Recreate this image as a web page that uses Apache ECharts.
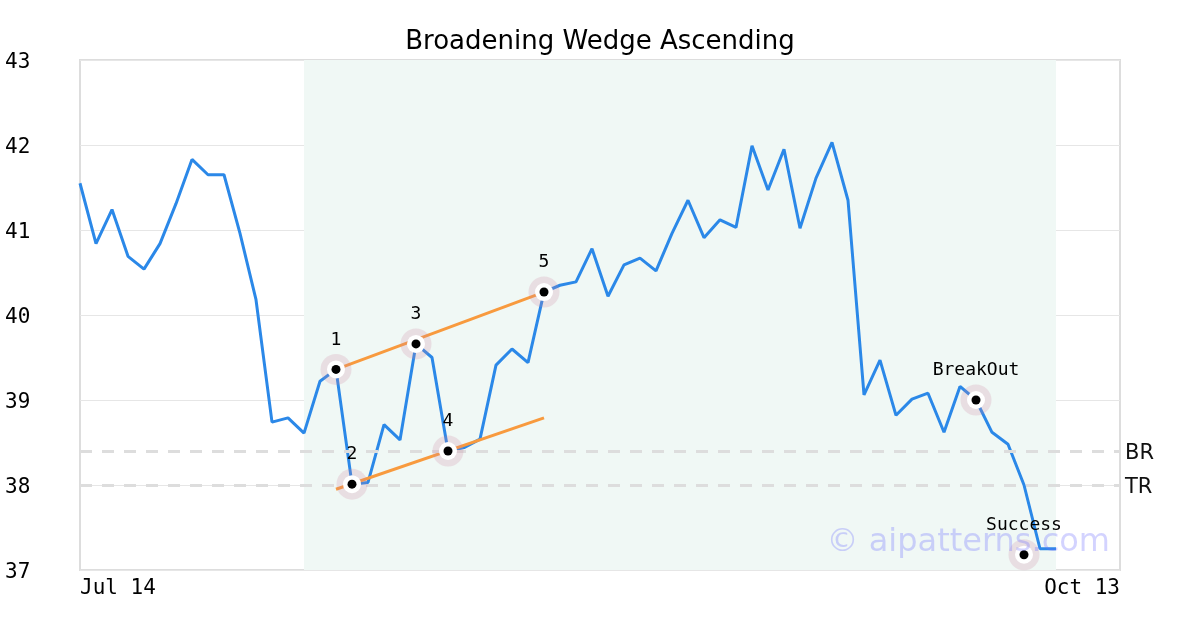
<!DOCTYPE html>
<html>
<head>
<meta charset="utf-8">
<script src="https://cdn.jsdelivr.net/npm/echarts@6/dist/echarts.min.js"></script>
<style>html,body{margin:0;padding:0;background:#fff}#c{width:1200px;height:630px}</style>
</head>
<body>
<div id="c"></div>
<script>
const categories = [
 'Jul 14','Jul 15','Jul 16','Jul 17','Jul 18',
 'Jul 21','Jul 22','Jul 23','Jul 24','Jul 25',
 'Jul 28','Jul 29','Jul 30','Jul 31','Aug 1',
 'Aug 4','Aug 5','Aug 6','Aug 7','Aug 8',
 'Aug 11','Aug 12','Aug 13','Aug 14','Aug 15',
 'Aug 18','Aug 19','Aug 20','Aug 21','Aug 22',
 'Aug 25','Aug 26','Aug 27','Aug 28','Aug 29',
 'Sep 1','Sep 2','Sep 3','Sep 4','Sep 5',
 'Sep 8','Sep 9','Sep 10','Sep 11','Sep 12',
 'Sep 15','Sep 16','Sep 17','Sep 18','Sep 19',
 'Sep 22','Sep 23','Sep 24','Sep 25','Sep 26',
 'Sep 29','Sep 30','Oct 1','Oct 2','Oct 3',
 'Oct 6','Oct 7','Oct 8','Oct 9','Oct 10',
 'Oct 13'
];
const prices = [
 41.55,40.84,41.24,40.69,40.54,40.84,41.31,41.83,41.65,41.65,
 40.96,40.18,38.74,38.79,38.61,39.22,39.36,38.01,38.03,38.71,
 38.53,39.66,39.50,38.40,38.44,38.54,39.41,39.60,39.44,40.27,
 40.35,40.39,40.78,40.22,40.59,40.67,40.52,40.96,41.35,40.91,
 41.12,41.03,41.99,41.47,41.95,41.02,41.61,42.03,41.35,39.06,
 39.47,38.82,39.01,39.08,38.62,39.16,39.00,38.62,38.48,38.00,
 37.25,37.25
];
const shadeRange = [14, 61];
const levelNames = ['BR','TR'];
const levelValues = [38.40, 38.00];
const upperIdx = [16, 29];
const upperVals = [39.36, 40.27];
const lowerIdx = [16, 29];
const lowerVals = [37.95, 38.79];
const patternLabels = ['1','2','3','4','5','BreakOut','Success'];
const patternIdx = [16,17,21,23,29,56,59];
const patternVals = [39.36,38.01,39.66,38.40,40.27,39.00,37.18];
const yTicks = {min:37, max:43, interval:1};

const pts = patternIdx.map((i,k)=>({value:[categories[i], patternVals[k]], name: patternLabels[k]}));

const chart = echarts.init(document.getElementById('c'), null, {renderer:'canvas'});
chart.setOption({
  animation:false,
  backgroundColor:'#fff',
  title:{text:'Broadening Wedge Ascending', left:'center', top:24,
    textStyle:{fontFamily:'DejaVu Sans', fontSize:26, fontWeight:'normal', color:'#000'}},
  grid:{left:80, right:80, top:60, bottom:60, show:true, borderColor:'#dddddd', borderWidth:2, backgroundColor:'transparent'},
  xAxis:{type:'category', data:categories, boundaryGap:false,
    axisLine:{show:false}, axisTick:{show:false}, splitLine:{show:false},
    axisLabel:{interval:(i)=> i===0 || i===categories.length-1, margin:8,
      fontFamily:'DejaVu Sans Mono', fontSize:21, color:'#000',
      alignMinLabel:'left', alignMaxLabel:'right'}},
  yAxis:{type:'value', min:yTicks.min, max:yTicks.max, interval:yTicks.interval,
    axisLine:{show:false}, axisTick:{show:false},
    splitLine:{lineStyle:{color:'#e6e6e6', width:1}},
    axisLabel:{align:'left', margin:75, formatter:'{a|{value}}',
      rich:{a:{padding:[5,0,0,0], fontFamily:'DejaVu Sans Mono', fontSize:21, color:'#000'}},
      fontFamily:'DejaVu Sans Mono', fontSize:21, color:'#000'}},
  graphic:[{type:'text', right:90, top:527, z:100, silent:true,
    style:{text:'© aipatterns.com', font:'32px "DejaVu Sans"', fill:'rgba(110,110,255,0.30)'}}],
  series:[
    {type:'line', data:prices, symbol:'none', z:3,
      lineStyle:{color:'#2b88e8', width:3}, itemStyle:{color:'#2b88e8'},
      markArea:{silent:true, itemStyle:{color:'#f0f8f5'},
        data:[[{xAxis:categories[shadeRange[0]]},{xAxis:categories[shadeRange[1]]}]]},
      markLine:{silent:true, symbol:'none',
        lineStyle:{color:'#dddddd', width:3, type:[12,10]},
        label:{position:'end', distance:5,
          formatter:(p)=>'{a|' + p.name + '}',
          rich:{a:{padding:[5,0,0,0], fontFamily:'DejaVu Sans', fontSize:21, color:'#111'}}},
        data: levelValues.map((v,k)=>({yAxis:v, name:levelNames[k]}))}
    },
    {type:'line', data:upperIdx.map((i,k)=>[categories[i], upperVals[k]]), symbol:'none', z:4,
      lineStyle:{color:'#f89a3e', width:3}},
    {type:'line', data:lowerIdx.map((i,k)=>[categories[i], lowerVals[k]]), symbol:'none', z:4,
      lineStyle:{color:'#f89a3e', width:3}},
    {type:'scatter', data:pts, symbolSize:31, z:5,
      itemStyle:{color:'rgba(205,130,160,0.22)', opacity:1}},
    {type:'scatter', data:pts, symbolSize:18, z:6, itemStyle:{color:'#ffffff', opacity:1}},
    {type:'scatter', data:pts, symbolSize:9, z:7, itemStyle:{color:'#000000', opacity:1},
      label:{show:true, position:'top', distance:16, color:'#000',
        formatter:(p)=>p.name, fontFamily:'DejaVu Sans Mono', fontSize:18}}
  ]
});
</script>
</body>
</html>
